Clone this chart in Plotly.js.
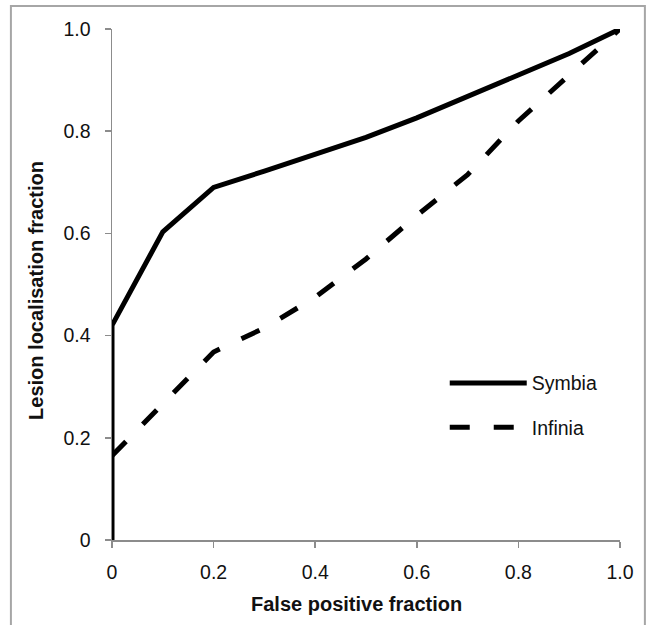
<!DOCTYPE html>
<html>
<head>
<meta charset="utf-8">
<script src="https://cdn.plot.ly/plotly-3.0.1.min.js"></script>
<style>
  html, body { margin: 0; padding: 0; background: #fff; }
  #chart { width: 648px; height: 625px; }
</style>
</head>
<body>
<div id="chart"></div>
<script>
const fpf = [0, 0, 0.1, 0.2, 0.3, 0.4, 0.5, 0.6, 0.7, 0.8, 0.9, 1.0];
const symbia = [0, 0.42, 0.603, 0.690, 0.722, 0.754, 0.788, 0.826, 0.867, 0.910, 0.952, 1.0];
const fpfInfinia = [0, 0.1, 0.2, 0.3, 0.4, 0.5, 0.6, 0.7, 0.8, 0.9, 1.0];
const infinia = [0.165, 0.268, 0.368, 0.415, 0.475, 0.550, 0.635, 0.715, 0.820, 0.910, 1.0];
const tickVals = [0, 0.2, 0.4, 0.6, 0.8, 1.0];
const tickText = ["0", "0.2", "0.4", "0.6", "0.8", "1.0"];
const xTitle = "False positive fraction";
const yTitle = "Lesion localisation fraction";

const font = "'Liberation Sans', Arial, sans-serif";

const traces = [
  { x: fpf, y: symbia, name: "Symbia", mode: "lines", legendgroup: "a",
    line: { color: "#000", width: 5 } },
  { x: fpfInfinia, y: infinia, name: "Infinia", mode: "lines", legendgroup: "b",
    line: { color: "#000", width: 5, dash: "20px,24px" } }
];

const axisCommon = {
  range: [0, 1], tickvals: tickVals, ticktext: tickText,
  showgrid: false, zeroline: false, showline: true,
  linecolor: "#8c8c8c", linewidth: 1.5,
  ticks: "outside", ticklen: 6, tickcolor: "#8c8c8c", tickwidth: 1.5,
  tickfont: { family: font, size: 19.5, color: "#111" },
  fixedrange: true
};

const titleFont = { family: font, size: 20, color: "#111", weight: "bold" };

const layout = {
  width: 648, height: 625,
  margin: { l: 112, r: 28, t: 29, b: 85 },
  paper_bgcolor: "#fff", plot_bgcolor: "#fff",
  showlegend: true,
  xaxis: Object.assign({}, axisCommon, { ticklabelstandoff: 8 }),
  yaxis: Object.assign({}, axisCommon, { ticklabelstandoff: 10 }),
  legend: {
    x: 0.655, y: 0.345, xanchor: "left", yanchor: "top",
    traceorder: "grouped", tracegroupgap: 16, itemwidth: 77,
    font: { family: font, size: 19.5, color: "#111" },
    bgcolor: "rgba(0,0,0,0)"
  },
  annotations: [
    { text: xTitle, xref: "paper", yref: "paper", x: 0.482, y: -0.125,
      xanchor: "center", yanchor: "middle", showarrow: false, font: titleFont },
    { text: yTitle, xref: "paper", yref: "paper", x: -0.15, y: 0.489, textangle: -90,
      xanchor: "center", yanchor: "middle", showarrow: false, font: titleFont }
  ],
  shapes: [
    { type: "rect", xref: "paper", yref: "paper",
      x0: -0.199, x1: 1.049, y0: -0.3, y1: 1.045,
      line: { color: "#a6a6a6", width: 2 }, fillcolor: "rgba(0,0,0,0)", layer: "below" }
  ]
};

Plotly.newPlot("chart", traces, layout, { displayModeBar: false, staticPlot: true });
</script>
</body>
</html>
